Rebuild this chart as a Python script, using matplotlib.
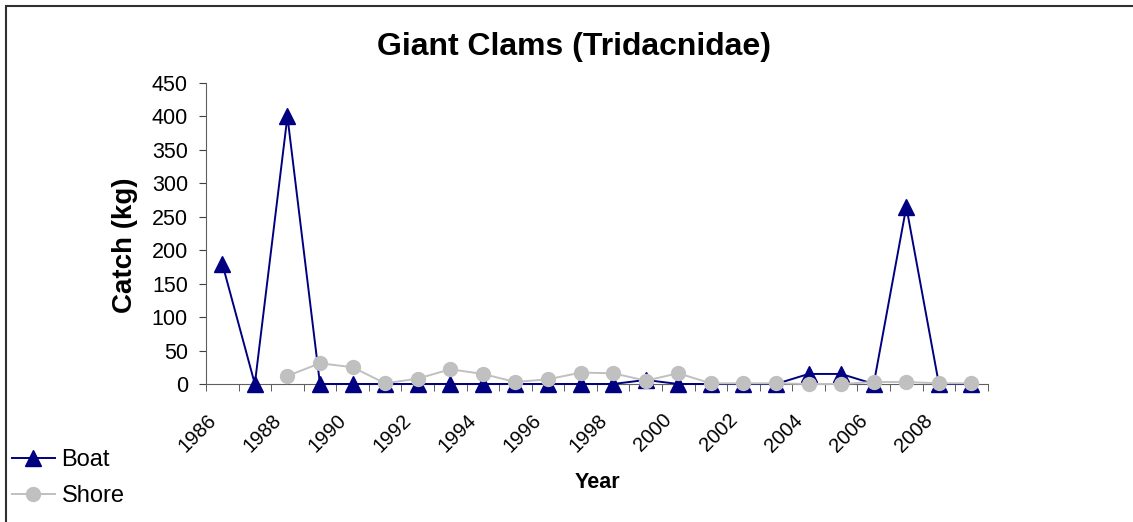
import numpy as np
import matplotlib
matplotlib.use('Agg')
from matplotlib import pyplot as plt
from matplotlib.patches import Rectangle
from matplotlib.transforms import ScaledTranslation

plt.rcParams['font.family'] = ['Liberation Sans', 'DejaVu Sans']

# data
years = list(range(1986, 2010))
boat = [180, 0, 400, 0, 0, 0, 0, 0, 0, 0, 0, 0, 0, 6, 0, 0, 0, 0, 15, 15, 0, 265, 0, 0]
shore = [np.nan, np.nan, 12, 31, 25, 1, 8, 22, 15, 3, 7, 17, 16, 5, 16, 1, 1, 1, 0, 0, 3, 3, 1, 1]
tick_years = years[::2]

fig = plt.figure(figsize=(11.33, 5.22), dpi=100)
ax = fig.add_axes([0.1818, 0.2644, 0.690, 0.5766])

x = np.arange(len(years))
ax.plot(x, boat, color='#000080', lw=1.4, marker='^', markersize=11.5, label='Boat',
        zorder=3, clip_on=False)
ax.plot(x, shore, color='#C0C0C0', lw=1.4, marker='o', markersize=10, label='Shore',
        zorder=4, clip_on=False)

ax.set_xlim(-0.5, len(years) - 0.5)
ax.set_ylim(0, 450)
ax.set_yticks(range(0, 451, 50))
ax.tick_params(axis='y', labelsize=15.5, direction='out', length=5, color='#404040', pad=8)

# category labels every other year, tick marks between categories
ax.set_xticks(x[::2])
ax.set_xticklabels([str(y) for y in tick_years], rotation=45, ha='right', va='top',
                   rotation_mode='anchor', fontsize=14.5)
ax.tick_params(axis='x', which='major', length=0, pad=19)
shift = ScaledTranslation(-0.16, 0, fig.dpi_scale_trans)
for lbl in ax.get_xticklabels():
    lbl.set_transform(lbl.get_transform() + shift)
ax.set_xticks(np.arange(-0.5, len(years)), minor=True)
ax.tick_params(axis='x', which='minor', direction='out', length=5, color='#404040')

for s in ['top', 'right']:
    ax.spines[s].set_visible(False)
ax.spines['left'].set_color('#606060')
ax.spines['bottom'].set_color('#606060')

fig.text(574 / 1133, 1 - 47 / 522, 'Giant Clams (Tridacnidae)', fontsize=23,
         fontweight='bold', ha='center', va='center')
fig.text(125 / 1133, 1 - 245 / 522, 'Catch (kg)', fontsize=20, fontweight='bold',
         rotation=90, ha='center', va='center')
fig.text(597 / 1133, 1 - 482 / 522, 'Year', fontsize=15.5, fontweight='bold',
         ha='center', va='center')

fig.legend(loc='upper left', bbox_to_anchor=(12 / 1133, 1 - 449 / 522), frameon=False,
           fontsize=17, handlelength=1.8, handletextpad=0.3, labelspacing=0.6,
           borderpad=0, borderaxespad=0)

# chart border (cut off on right and bottom)
fig.patches.append(Rectangle((6 / 1133, -0.5), 2, 1.5 - 6 / 522, transform=fig.transFigure,
                             facecolor='none', edgecolor='#303030', lw=1.5))

fig.savefig('out.png', dpi=100)
